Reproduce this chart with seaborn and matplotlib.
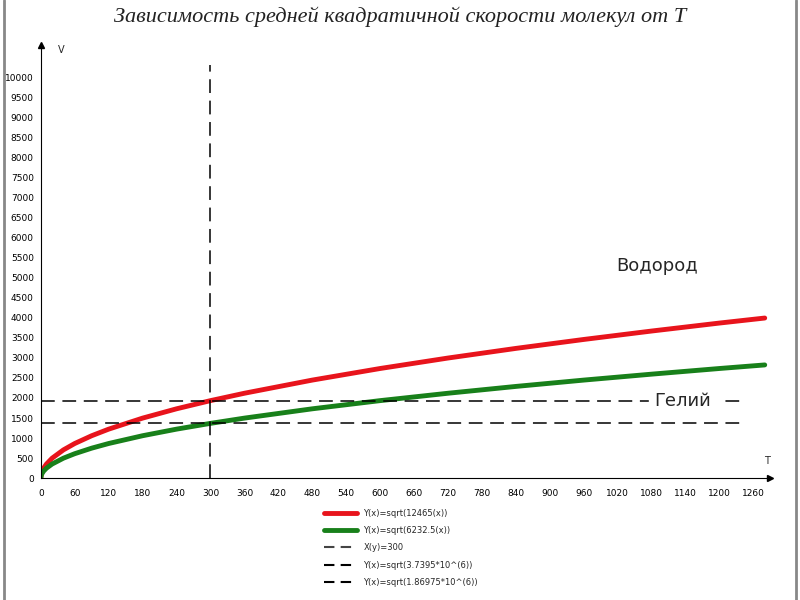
import matplotlib
matplotlib.use("Agg")
import matplotlib.pyplot as plt
import seaborn as sns
import pandas as pd
from matplotlib.lines import Line2D

T = [0, 1, 2, 5, 10, 20, 40, 60, 90, 120, 180, 240, 300, 360, 480, 600, 720, 840, 960, 1080, 1200, 1280]
v_h2 = [0, 112, 158, 250, 353, 499, 706, 865, 1059, 1223, 1498, 1730, 1934, 2118, 2446, 2735, 2996, 3236, 3459, 3669, 3868, 3993]
v_he = [0, 79, 112, 177, 250, 353, 499, 611, 749, 865, 1059, 1223, 1367, 1498, 1730, 1934, 2118, 2288, 2446, 2594, 2735, 2824]
h_lines = [1934, 1367]
v_line = 300
xticks = list(range(0, 1261, 60))
yticks = list(range(0, 10001, 500))
legend_labels = ["Y(x)=sqrt(12465(x))", "Y(x)=sqrt(6232.5(x))", "X(y)=300",
                 "Y(x)=sqrt(3.7395*10^(6))", "Y(x)=sqrt(1.86975*10^(6))"]

sns.set_style("white")
fig = plt.figure(figsize=(8, 6), dpi=100)
ax = fig.add_axes([0.051, 0.203, 0.912, 0.722])
df = pd.DataFrame({"T": T, "h2": v_h2, "he": v_he})
sns.lineplot(data=df, x="T", y="h2", ax=ax, color="#e8141c", lw=3.5)
sns.lineplot(data=df, x="T", y="he", ax=ax, color="#18801a", lw=3.5)
for h in h_lines:
    ax.plot([0, 1240], [h, h], color="black", lw=1.1, dashes=(9, 5))
ax.plot([v_line, v_line], [0, 10300], color="black", lw=1.1, dashes=(9, 5))
ax.set_xlim(0, 1290)
ax.set_ylim(0, 10800)
ax.set_xticks(xticks)
ax.set_yticks(yticks)
ax.tick_params(labelsize=6.5, length=3, direction="out", width=0.8, colors="black", pad=2)
ax.tick_params(axis="x", pad=5)
for s in ["top", "right"]:
    ax.spines[s].set_visible(False)
for s in ["left", "bottom"]:
    ax.spines[s].set_color("black")
ax.set_xlabel(""); ax.set_ylabel("")
ax.plot(1, 0, ">k", transform=ax.transAxes, clip_on=False, ms=5)
ax.plot(0, 1, "^k", transform=ax.transAxes, clip_on=False, ms=5)
ax.text(1290, 300, "T", fontsize=7, ha="right", va="bottom")
ax.text(30, 10800, "V", fontsize=7, ha="left", va="top")
ax.text(1018, 5170, "Водород", fontsize=13)
ax.text(1085, 1930, "Гелий", fontsize=13, va="center", backgroundcolor="white")
fig.text(0.5, 0.972, "Зависимость средней квадратичной скорости молекул от T",
         family="Liberation Serif", style="italic", fontsize=16, ha="center", va="center", color="#222")
handles = [Line2D([], [], color="#e8141c", lw=3.5), Line2D([], [], color="#18801a", lw=3.5),
           Line2D([], [], color="#444", lw=1.5, dashes=(5, 3)), Line2D([], [], color="black", lw=1.5, dashes=(5, 3)),
           Line2D([], [], color="black", lw=1.5, dashes=(5, 3))]
fig.legend(handles, legend_labels, loc="upper left", bbox_to_anchor=(0.395, 0.165), frameon=False,
           fontsize=6, handlelength=4, labelspacing=1.0)
fig.add_artist(Line2D([0.005, 0.005], [0, 1], color="#888", lw=2))
fig.add_artist(Line2D([0.995, 0.995], [0, 1], color="#888", lw=2))
fig.savefig("out.png", dpi=100)
